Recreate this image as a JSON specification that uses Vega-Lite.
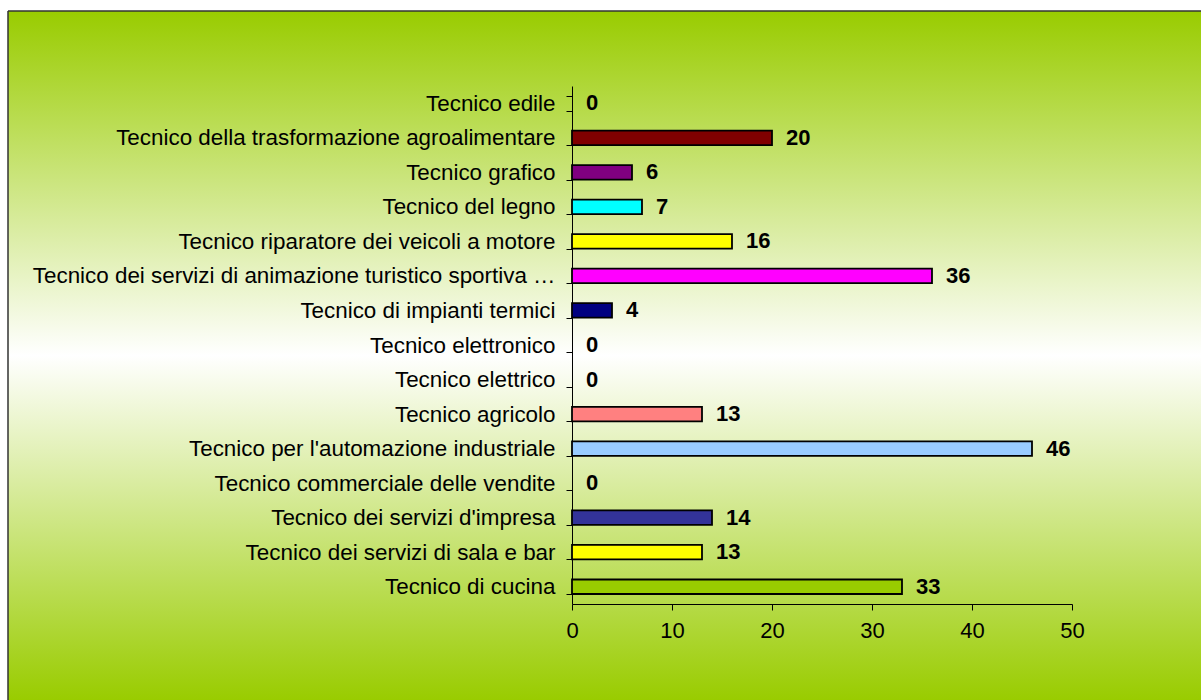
{
  "$schema": "https://vega.github.io/schema/vega-lite/v6.json",
  "width": 1193,
  "height": 689,
  "autosize": {"type": "none"},
  "padding": {"left": 8, "top": 11, "right": 0, "bottom": 0},
  "background": "#ffffff",
  "view": {
    "fill": {
      "gradient": "linear",
      "x1": 0, "y1": 0, "x2": 0, "y2": 1,
      "stops": [
        {"offset": 0, "color": "#99cc00"},
        {"offset": 0.5, "color": "#ffffff"},
        {"offset": 1, "color": "#99cc00"}
      ]
    },
    "stroke": "#333333",
    "strokeWidth": 1.5,
    "strokeDash": [1193, 1882, 689, 0]
  },
  "config": {"font": "Liberation Sans"},
  "data": {
    "values": [
      {"course": "Tecnico edile", "value": 0},
      {"course": "Tecnico della trasformazione agroalimentare", "value": 20},
      {"course": "Tecnico grafico", "value": 6},
      {"course": "Tecnico del legno", "value": 7},
      {"course": "Tecnico riparatore dei veicoli a motore", "value": 16},
      {"course": "Tecnico dei servizi di animazione turistico sportiva e del tempo libero", "value": 36},
      {"course": "Tecnico di impianti termici", "value": 4},
      {"course": "Tecnico elettronico", "value": 0},
      {"course": "Tecnico elettrico", "value": 0},
      {"course": "Tecnico agricolo", "value": 13},
      {"course": "Tecnico per l'automazione industriale", "value": 46},
      {"course": "Tecnico commerciale delle vendite", "value": 0},
      {"course": "Tecnico dei servizi d'impresa", "value": 14},
      {"course": "Tecnico dei servizi di sala e bar", "value": 13},
      {"course": "Tecnico di cucina", "value": 33}
    ]
  },
  "encoding": {
    "y": {
      "field": "course",
      "type": "nominal",
      "sort": null,
      "scale": {
        "domain": [
          "Tecnico edile",
          "Tecnico della trasformazione agroalimentare",
          "Tecnico grafico",
          "Tecnico del legno",
          "Tecnico riparatore dei veicoli a motore",
          "Tecnico dei servizi di animazione turistico sportiva e del tempo libero",
          "Tecnico di impianti termici",
          "Tecnico elettronico",
          "Tecnico elettrico",
          "Tecnico agricolo",
          "Tecnico per l'automazione industriale",
          "Tecnico commerciale delle vendite",
          "Tecnico dei servizi d'impresa",
          "Tecnico dei servizi di sala e bar",
          "Tecnico di cucina"
        ],
        "range": [75, 593],
        "paddingInner": 0.58,
        "paddingOuter": 0.29
      },
      "axis": {
        "title": null,
        "tickBand": "extent",
        "tickSize": 6,
        "tickColor": "#000000",
        "domainColor": "#000000",
        "labelFontSize": 22.4,
        "labelColor": "#000000",
        "labelPadding": 11,
        "labelLimit": 532,
        "offset": -564,
        "grid": false
      }
    }
  },
  "layer": [
    {
      "mark": {"type": "bar", "strokeWidth": 1.8},
      "encoding": {
        "x": {
          "field": "value",
          "type": "quantitative",
          "scale": {"domain": [0, 50], "range": [564, 1064], "nice": false},
          "axis": {
            "title": null,
            "values": [0, 10, 20, 30, 40, 50],
            "tickSize": 6,
            "tickColor": "#000000",
            "domainColor": "#000000",
            "labelFontSize": 22,
            "labelColor": "#000000",
            "labelPadding": 10,
            "labelFlush": false,
            "labelOverlap": false,
            "offset": -96,
            "grid": false
          }
        },
        "stroke": {
          "condition": {"test": "datum.value === 0", "value": null},
          "value": "#000000"
        },
        "color": {
          "field": "course",
          "type": "nominal",
          "legend": null,
          "scale": {
            "domain": [
              "Tecnico edile",
              "Tecnico della trasformazione agroalimentare",
              "Tecnico grafico",
              "Tecnico del legno",
              "Tecnico riparatore dei veicoli a motore",
              "Tecnico dei servizi di animazione turistico sportiva e del tempo libero",
              "Tecnico di impianti termici",
              "Tecnico elettronico",
              "Tecnico elettrico",
              "Tecnico agricolo",
              "Tecnico per l'automazione industriale",
              "Tecnico commerciale delle vendite",
              "Tecnico dei servizi d'impresa",
              "Tecnico dei servizi di sala e bar",
              "Tecnico di cucina"
            ],
            "range": [
              "#ffffff", "#800000", "#800080", "#00ffff", "#ffff00", "#ff00ff", "#000080",
              "#ffffff", "#ffffff", "#ff8080", "#99ccff", "#ffffff", "#333399", "#ffff00", "#99cc00"
            ]
          }
        }
      }
    },
    {
      "mark": {"type": "text", "align": "left", "baseline": "middle", "dx": 14, "fontWeight": "bold", "fontSize": 22, "color": "#000000"},
      "encoding": {
        "x": {"field": "value", "type": "quantitative"},
        "text": {"field": "value", "type": "quantitative"}
      }
    }
  ]
}
